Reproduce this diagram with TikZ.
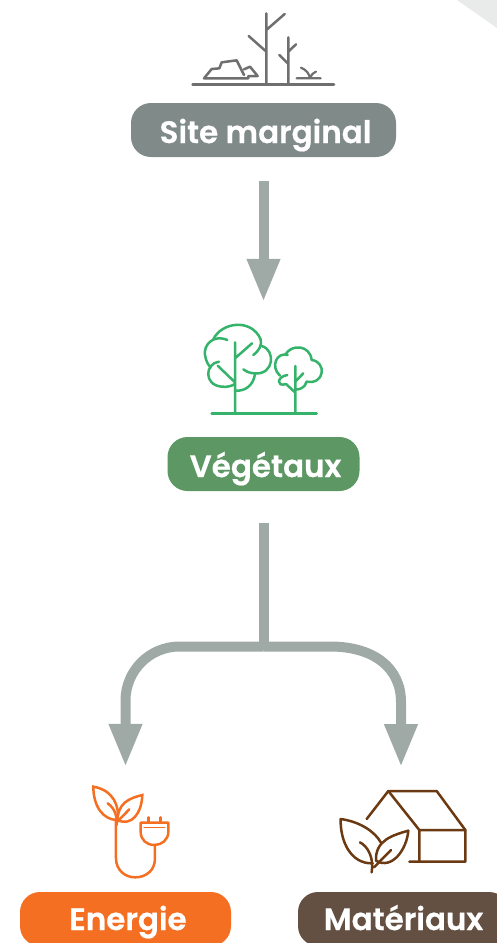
\documentclass[tikz,border=0pt]{standalone}
\usepackage{fontspec}
\setmainfont{Poppins}[BoldFont={Poppins SemiBold},BoldFeatures={FakeBold=0.6}]
\usetikzlibrary{arrows.meta}
\definecolor{cSite}{HTML}{808B89}
\definecolor{cVeg}{HTML}{5D9764}
\definecolor{cEn}{HTML}{F56F23}
\definecolor{cMat}{HTML}{645043}
\definecolor{cArrow}{HTML}{9FAAA7}
\definecolor{cCorner}{HTML}{E9EBEA}
\definecolor{iSite}{HTML}{6F6F70}
\definecolor{iVeg}{HTML}{35B36B}
\definecolor{iMat}{HTML}{6B3A12}
\tikzset{
 pill/.style={rounded corners=20pt,minimum height=54pt,inner sep=0pt,text=white,font=\fontsize{31}{32}\selectfont\bfseries,text depth=2pt},
 pillhi/.style={pill,text height=28pt},
 pilllo/.style={pill,text height=24pt},
 conn/.style={draw=cArrow,line width=10pt,-{Triangle[length=43pt,width=31pt]}},
 icon/.style={line width=2.5pt,line cap=round,line join=round},
}
\begin{document}
\begin{tikzpicture}[x=1pt,y=-1pt]
\useasboundingbox (0,0) rectangle (497,943);
\clip (0,0) rectangle (497,943);
\fill[cCorner] (457,0) -- (497,28) -- (497,0) -- cycle;
% nodes
\node[pillhi,fill=cSite,minimum width=265pt] (site) at (263.5,130) {\hspace{4pt}Site marginal};
\node[pillhi,fill=cVeg,minimum width=192pt] (veg) at (263.5,464) {\hspace{4pt}Végétaux};
\node[pilllo,fill=cEn,minimum width=211pt] (en) at (125.5,919) {\hspace{5pt}Energie};
\node[pilllo,fill=cMat,minimum width=211pt] (mat) at (403.5,919) {Matériaux};
\coordinate (mattop) at (401,892);
% connectors
\draw[conn,shorten <=24pt,shorten >=135pt] (site.south) -- (site.south |- veg.north);
\coordinate (jun) at (263.5,646.5);
\coordinate (rbend) at (330,646.5);
\coordinate (rdown) at (401,702);
\draw[conn,rounded corners=54pt,shorten >=125pt] (jun) -- (jun -| en.north) -- (en.north);
\draw[conn,shorten >=125pt] (jun) -- (rbend) .. controls (374,646.5) and (401,668) .. (rdown) -- (mattop);
\draw[draw=cArrow,line width=10pt,shorten <=32pt,shorten >=-3pt] (veg.south) -- (jun);
% site icon
\begin{scope}[shift={(120,0)},scale=1/3,icon,draw=iSite]
\draw[line width=2.8pt] (218,254) -- (642,254);
\draw (439,40) -- (439,254) (439,90) -- (494,42) (386,108) -- (439,155);
\draw (505,112) -- (505,254) (505,155) -- (528,133) (478,165) -- (505,192);
\draw (372,225) -- (350,181) -- (305,187) -- (298,205) -- (275,207) -- (252,235) -- (385,235) -- (385,228) -- (413,228) -- (390,200) -- (372,208);
\draw[line width=2.2pt] (530,235) -- (602,235) (543,203) .. controls (560,210) and (568,222) .. (570,235) (588,215) .. controls (578,220) and (572,226) .. (570,235);
\end{scope}
% tree icon
\begin{scope}[shift={(150,310)},scale=1/3,icon,draw=iVeg]
\draw (185,311) -- (500,311);
\draw (255,97) -- (255,310) (255,145) -- (306,100) (203,167) -- (255,217);
\draw (190,88) .. controls (215,35) and (305,25) .. (332,88) .. controls (337,105) and (325,125) .. (310,135);
\draw (232,90) .. controls (190,72) and (160,105) .. (165,135) .. controls (168,155) and (175,165) .. (182,172);
\draw (207,155) .. controls (165,160) and (160,225) .. (215,230) .. controls (232,232) and (245,228) .. (255,222);
\draw (335,108) .. controls (378,120) and (372,195) .. (315,190) .. controls (300,190) and (290,185) .. (280,178);
\draw (315,190) .. controls (312,225) and (285,245) .. (255,242);
\draw (436,168) -- (436,311) (436,215) -- (460,190) (408,222) -- (436,248);
\draw (405,135) .. controls (425,100) and (480,105) .. (485,150);
\draw (485,150) .. controls (530,155) and (525,225) .. (470,215);
\draw (470,215) .. controls (465,235) and (445,240) .. (436,238);
\draw (413,135) .. controls (380,125) and (360,170) .. (390,197);
\draw (412,195) .. controls (380,200) and (378,232) .. (408,222);
\end{scope}
% energy icon
\begin{scope}[shift={(0,770)},scale=1/3,icon,draw=cEn]
\draw[line join=miter] (352,150) .. controls (360,110) and (340,60) .. (280,50) .. controls (280,110) and (310,150) .. (352,150);
\draw[line join=miter] (352,150) .. controls (355,100) and (385,85) .. (427,75) .. controls (425,130) and (395,170) .. (352,150);
\draw (323,100) .. controls (345,115) and (352,140) .. (350,165) (388,118) -- (352,155);
\draw (348,150) -- (348,265) .. controls (348,300) and (375,322) .. (405,322) .. controls (440,322) and (465,300) .. (465,265) -- (465,225);
\draw (422,158) -- (505,158) -- (505,185) .. controls (505,210) and (485,225) .. (463,225) .. controls (440,225) and (422,210) .. (422,185) -- cycle;
\draw (445,142) -- (445,158) (482,142) -- (482,158);
\draw[line width=1.2pt] (432,172) -- (495,172);
\end{scope}
% materials icon
\begin{scope}[shift={(280,770)},scale=1/3,icon,draw=iMat]
\draw (260,147) -- (325,63) -- (470,63) -- (556,180) -- (556,275) -- (388,275);
\draw (325,63) -- (418,180) -- (556,180) (418,180) -- (418,275);
\draw (303,218) .. controls (285,185) and (240,155) .. (182,147) .. controls (180,210) and (210,282) .. (278,280);
\draw (385,182) .. controls (340,195) and (285,210) .. (288,272) .. controls (335,300) and (380,240) .. (385,182);
\draw (240,217) .. controls (265,230) and (282,265) .. (275,307) (333,240) -- (282,292);
\end{scope}
\end{tikzpicture}
\end{document}
